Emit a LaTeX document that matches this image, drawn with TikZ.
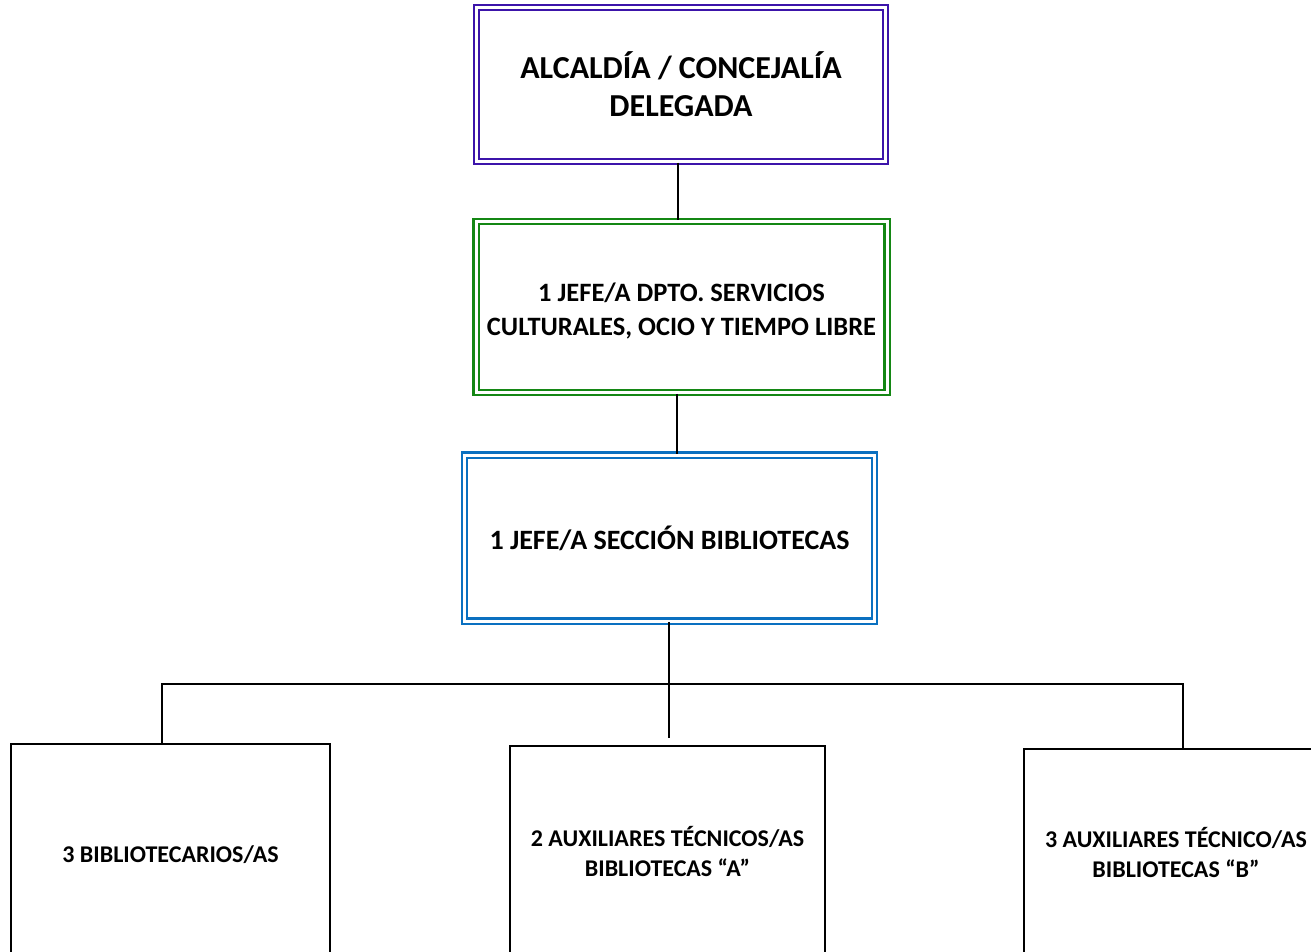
\documentclass[tikz,border=0pt]{standalone}
\usepackage{fontspec}
\setmainfont{Carlito}
\begin{document}
\begin{tikzpicture}[x=1pt,y=-1pt,
  dbox/.style={draw=#1, double, double distance=3pt, line width=2.2pt,
    fill=white, align=center, font=\bfseries, inner sep=0pt},
  plainbox/.style={draw=black, line width=1.6pt, fill=white, align=center,
    font=\fontsize{24}{30}\selectfont\bfseries, inner sep=0pt},
  link/.style={draw=black, line width=1.8pt}]
\definecolor{alcaldia}{RGB}{60,20,170}
\definecolor{dpto}{RGB}{20,135,20}
\definecolor{seccion}{RGB}{10,112,192}
\clip (0,0) rectangle (1311,951);
\fill[white] (0,0) rectangle (1311,951);

% upper chain of command
\node[dbox=alcaldia, minimum width=409.5pt, minimum height=154pt,
  font=\fontsize{32}{38}\selectfont\bfseries] (alc) at (681,84.5)
  {ALCALDÍA / CONCEJALÍA\\DELEGADA};
\node[dbox=dpto, minimum width=411pt, minimum height=171.5pt,
  label={[name=deptext, align=center, yshift=-4pt,
    font=\fontsize{26.5}{34}\selectfont\bfseries]center:1 JEFE/A DPTO. SERVICIOS\\CULTURALES, OCIO Y TIEMPO LIBRE}]
  (dep) at (681.5,307) {};
\node[dbox=seccion, minimum width=410pt, minimum height=166pt,
  font=\fontsize{28}{32}\selectfont\bfseries] (sec) at (669.5,538)
  {1 JEFE/A SECCIÓN BIBLIOTECAS};

% staff boxes
\node[plainbox, minimum width=319pt, minimum height=222pt] (bib) at (170.5,855)
  {3 BIBLIOTECARIOS/AS};
\node[plainbox, minimum width=315pt, minimum height=210pt] (auxa) at (667.5,851)
  {2 AUXILIARES TÉCNICOS/AS\\BIBLIOTECAS “A”};
\node[plainbox, minimum width=304pt, minimum height=207pt] (auxb) at (1176,852.5)
  {3 AUXILIARES TÉCNICO/AS\\BIBLIOTECAS “B”};

% connectors
\coordinate (bus) at (0,684);
\coordinate (stub) at (669,738);
\draw[link] ([xshift=-3pt]alc.south) -- ([xshift=-3pt]alc.south |- dep.north);
\draw[link] ([xshift=-4.5pt]dep.south) -- ([xshift=-4.5pt]dep.south |- sec.north);
\draw[link] ([xshift=-0.5pt]sec.south) -- (stub);
\draw[link] ([xshift=-8.5pt]bib.north) -- ([xshift=-8.5pt]bib.north |- bus)
  -- ([xshift=7pt]auxb.north |- bus) -- ([xshift=7pt]auxb.north);
\end{tikzpicture}
\end{document}
